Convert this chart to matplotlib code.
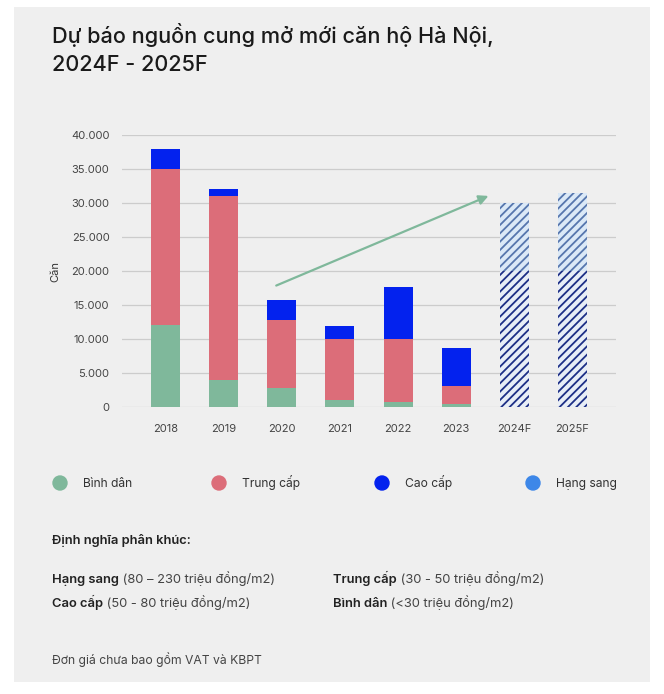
import matplotlib.pyplot as plt
import matplotlib.patches as mpatches
import numpy as np

plt.rcParams['font.family'] = ['Inter', 'DejaVu Sans']
plt.rcParams['hatch.linewidth'] = 1.3

# Data
years = ['2018', '2019', '2020', '2021', '2022', '2023', '2024F', '2025F']
binh_dan = np.array([12000, 4000, 2800, 1000, 700, 500, 0, 0])
trung_cap = np.array([23000, 27000, 10000, 9000, 9300, 2600, 0, 0])
cao_cap = np.array([3000, 1000, 3000, 1900, 7700, 5600, 0, 0])
# forecast bars: lower (certain) part and upper (uncertain) part
fc_low = np.array([0, 0, 0, 0, 0, 0, 20000, 20000])
fc_high = np.array([0, 0, 0, 0, 0, 0, 10000, 11500])
yticks = [0, 5000, 10000, 15000, 20000, 25000, 30000, 35000, 40000]

c_green = '#7fb89b'
c_red = '#dc6d79'
c_blue = '#0322ee'
c_lux = '#3d87e8'
bg = '#efefef'

fig = plt.figure(figsize=(6.64, 6.94), dpi=100)
fig.patch.set_facecolor('white')
fig.add_artist(mpatches.Rectangle((14 / 664, 1 - 682 / 694), 636 / 664, 675 / 694,
                                  transform=fig.transFigure, facecolor=bg,
                                  edgecolor='none', zorder=0))

ax = fig.add_axes([122 / 664, 1 - 407 / 694, 494 / 664, 272 / 694])
ax.set_facecolor(bg)
x = np.arange(len(years))
w = 0.5
ax.bar(x, binh_dan, w, color=c_green, zorder=3)
ax.bar(x, trung_cap, w, bottom=binh_dan, color=c_red, zorder=3)
ax.bar(x, cao_cap, w, bottom=binh_dan + trung_cap, color=c_blue, zorder=3)
ax.bar(x, fc_low, w, color='#e8eef7', edgecolor='#1d2f86', hatch='////',
       linewidth=0, zorder=3)
ax.bar(x, fc_high, w, bottom=fc_low, color='#dbe9f7', edgecolor='#5676ad',
       hatch='////', linewidth=0, zorder=3)

ax.annotate('', xy=(5.6, 31200), xytext=(1.86, 17700),
            arrowprops=dict(arrowstyle='-|>', color='#7fb89b', lw=1.6,
                            mutation_scale=14), zorder=4)

ax.set_xlim(-0.75, 7.75)
ax.set_ylim(0, 40000)
ax.set_yticks(yticks)
ax.set_yticklabels([f'{v:,}'.replace(',', '.') for v in yticks])
ax.set_xticks(x)
ax.set_xticklabels(years)
ax.tick_params(length=0, labelsize=8, colors='#444444', pad=12)
ax.tick_params(axis='y', pad=9)
ax.grid(axis='y', color='#cccccc', lw=0.9, zorder=0)
for s in ax.spines.values():
    s.set_visible(False)
ax.set_ylabel('Căn', fontsize=8, color='#333333', labelpad=8)

fig.text(52 / 664, 1 - 49 / 694, 'Dự báo nguồn cung mở mới căn hộ Hà Nội,\n2024F - 2025F',
         fontsize=15.6, fontweight='medium', color='#1a1a1a', va='center',
         linespacing=1.5)

# legend
leg_items = [('Bình dân', c_green, 60), ('Trung cấp', c_red, 219),
             ('Cao cấp', c_blue, 382), ('Hạng sang', c_lux, 533)]
for label, col, px in leg_items:
    fig.add_artist(mpatches.Ellipse((px / 664, 1 - 483 / 694), 14 / 664, 14 / 694,
                                    transform=fig.transFigure, color=col))
    fig.text((px + 23) / 664, 1 - 487 / 694, label, fontsize=8.7, color='#333333',
             va='baseline')

fig.text(52 / 664, 1 - 544 / 694, 'Định nghĩa phân khúc:', fontsize=9.3,
         fontweight='semibold', color='#222222', va='baseline')

defs = [('Hạng sang', ' (80 – 230 triệu đồng/m2)', 52, 583),
        ('Trung cấp', ' (30 - 50 triệu đồng/m2)', 333, 583),
        ('Cao cấp', ' (50 - 80 triệu đồng/m2)', 52, 607),
        ('Bình dân', ' (<30 triệu đồng/m2)', 333, 607)]
fig.canvas.draw()
r = fig.canvas.get_renderer()
for bold, rest, px, py in defs:
    t = fig.text(px / 664, 1 - py / 694, bold, fontsize=9.3, fontweight='semibold',
                 color='#222222', va='baseline')
    bb = t.get_window_extent(renderer=r)
    fig.text(bb.x1 / 664, 1 - py / 694, rest, fontsize=9.3, color='#444444',
             va='baseline')

fig.text(52 / 664, 1 - 664 / 694, 'Đơn giá chưa bao gồm VAT và KBPT', fontsize=8.75,
         color='#444444', va='baseline')

fig.savefig('out.png', dpi=100, facecolor=fig.get_facecolor())
